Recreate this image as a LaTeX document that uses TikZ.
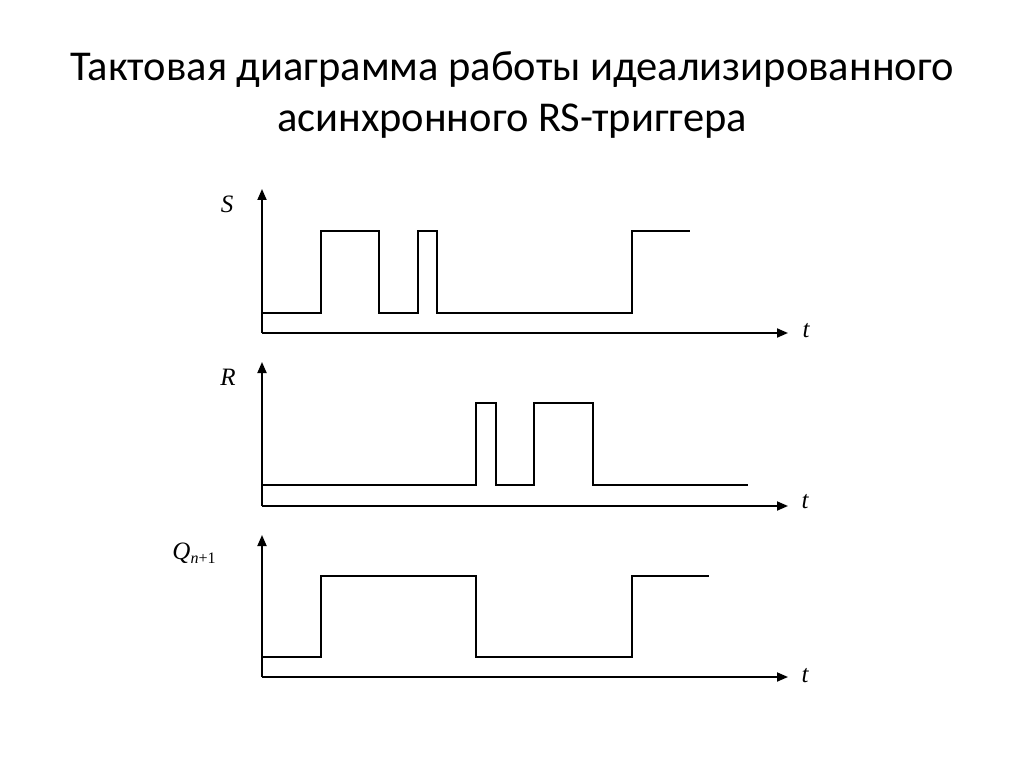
\documentclass[tikz,border=0pt]{standalone}
\usepackage{fontspec}
\setmainfont{Carlito}
\newfontfamily\tms{Liberation Serif}
\usetikzlibrary{arrows.meta}

\tikzset{
  axis/.style={line width=1.8pt,-{Triangle[length=11pt,width=9pt]}},
  signal/.style={line width=2.2pt,line join=miter},
  lbl/.style={font=\tms\itshape\fontsize{25}{25}\selectfont}
}

\begin{document}
\begin{tikzpicture}[x=1pt,y=-1pt]
\useasboundingbox (0,0) rectangle (1024,767);

\node[align=center,font=\fontsize{42.5}{50.7}\selectfont,anchor=base] (title) at (512,131.7)
  {Тактовая диаграмма работы идеализированного\\асинхронного RS-триггера};

% S
\draw[axis] (262,333) -- (262,189);
\draw[axis] (262,333) -- (788,333);
\node[lbl] (lblS) at (227,204) {S};
\node[lbl] (tS) at (806,331) {t};
\draw[signal] (262,313) -- (321,313) -- (321,231) -- (379,231) -- (379,313) -- (418,313)
  -- (418,231) -- (437,231) -- (437,313) -- (632,313) -- (632,231) -- (690,231);

% R
\draw[axis] (262,506) -- (262,362);
\draw[axis] (262,506) -- (788,506);
\node[lbl] (lblR) at (228,377) {R};
\node[lbl] (tR) at (805,502) {t};
\draw[signal] (262,485) -- (476,485) -- (476,403) -- (496,403) -- (496,485) -- (534,485)
  -- (534,403) -- (593,403) -- (593,485) -- (748,485);

% Q_{n+1}
\draw[axis] (262,677) -- (262,535);
\draw[axis] (262,677) -- (788,677);
\node[lbl] (lblQ) at (194,553) {Q\raisebox{-0.35ex}{\fontsize{16}{16}\selectfont n\upshape+1}};
\node[lbl] (tQ) at (805,676) {t};
\draw[signal] (262,657) -- (321,657) -- (321,576) -- (476,576) -- (476,657) -- (632,657)
  -- (632,576) -- (709,576);
\end{tikzpicture}
\end{document}
